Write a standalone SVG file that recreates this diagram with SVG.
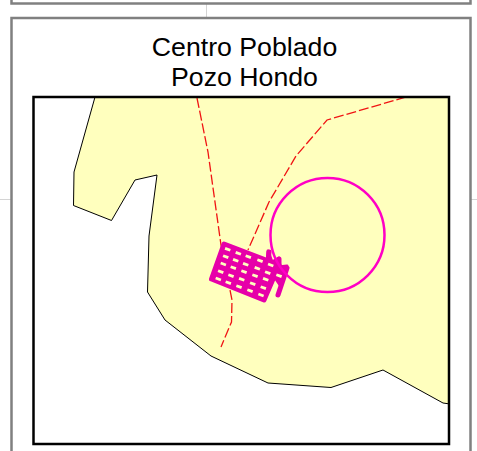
<svg xmlns="http://www.w3.org/2000/svg" width="477" height="451" viewBox="0 0 477 451">
<style>
.frame{fill:#fff;stroke:#808080;stroke-width:2.500}
.guide{stroke:#d4d4d4;stroke-width:1;fill:none}
.land{fill:#ffffbe;stroke:#000;stroke-width:1}
.road{fill:none;stroke:#f01414;stroke-width:1.300;stroke-dasharray:10 3}
.bld{fill:#e600a9;stroke:#e600a9;stroke-linejoin:round;stroke-linecap:round}
.dot{fill:#ffffbe}
text{font-family:"Liberation Sans",Arial,sans-serif;font-size:26.700px;fill:#000;text-anchor:middle}
</style>
<defs><rect id="d" x="-2.800" y="-1.400" width="5.600" height="2.800" transform="rotate(20)" class="dot"/></defs>
<rect width="477" height="451" fill="#fff"/>
<path class="guide" d="M206.500 3V18M206.500 444V451M0 199.500H11M471 199.500H477"/>
<rect class="frame" x="11.500" y="-20" width="459" height="23.500"/>
<rect class="frame" x="11.500" y="18" width="459" height="450"/>
<text x="244.500" y="55.500">Centro Poblado</text>
<text x="244.500" y="86">Pozo Hondo</text>
<clipPath id="c"><rect x="34" y="98" width="415" height="346"/></clipPath>
<g clip-path="url(#c)">
<path class="land" d="M95 97L74 172L73.500 205.500L111.500 220.500L135 180L157 175L149 236L147.500 292L165 320L211 356L268 383L331 387.500L383 370L443 403L450 404V90H95Z"/>
<g id="roads">
<path class="road" d="M197 98L208 152L221 245L232 300L231.500 322L221 347"/>
<path class="road" d="M406 97L327 120L296 156L269 202L248 250"/>
</g>
<g id="building">
<path class="bld" stroke-width="5" d="M224 244L279 265L264 300L211.500 279Z"/>
<path class="bld" stroke-width="3" d="M267 266L268 251L272 262L279 258L278 267L287 266L280 285Z"/>
<path class="bld" stroke-width="5" fill="none" d="M287 268L278 295M268 262L269 252M279 267L279 259"/>
<use href="#d" x="227.700" y="249.300"/><use href="#d" x="238.300" y="253.300"/><use href="#d" x="248.300" y="256.700"/><use href="#d" x="260" y="260.700"/><use href="#d" x="270.700" y="265"/>
<use href="#d" x="225.700" y="256.700"/><use href="#d" x="235.700" y="260.300"/><use href="#d" x="245.700" y="264.300"/><use href="#d" x="257.300" y="268.300"/><use href="#d" x="267.700" y="272.700"/><use href="#d" x="279" y="275.700"/>
<use href="#d" x="223.300" y="264"/><use href="#d" x="233.300" y="267.700"/><use href="#d" x="244" y="271.700"/><use href="#d" x="255" y="275.700"/><use href="#d" x="265.700" y="279.300"/>
<use href="#d" x="220.700" y="271.700"/><use href="#d" x="231" y="275.700"/><use href="#d" x="241.700" y="279.300"/><use href="#d" x="252.700" y="283.700"/><use href="#d" x="263.300" y="287.700"/>
<use href="#d" x="218.300" y="279"/><use href="#d" x="228.300" y="282.700"/><use href="#d" x="239" y="286.700"/><use href="#d" x="250" y="290.700"/><use href="#d" x="261" y="295"/>
</g>
<circle id="ring" cx="327.500" cy="235" r="57" fill="none" stroke="#ff00c5" stroke-width="2.500"/>
</g>
<rect x="33.500" y="97" width="415.500" height="347" fill="none" stroke="#000" stroke-width="2.500"/>
</svg>
